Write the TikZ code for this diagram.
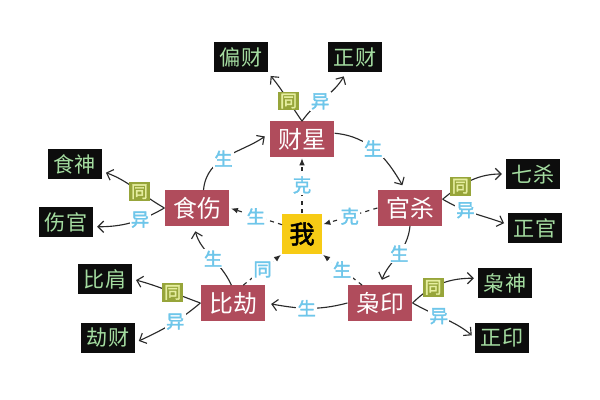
\documentclass[tikz,border=0pt]{standalone}
\usepackage{fontspec}
\setmainfont{Noto Sans CJK SC}[AutoFakeBold=2]
\usepackage{tikz}
\usetikzlibrary{arrows.meta}
\usepackage{xcolor}
\definecolor{bzred}{HTML}{B04C5C}
\definecolor{bzyellow}{HTML}{F7CB15}
\definecolor{bzblack}{HTML}{0D0D0D}
\definecolor{bzgreen}{HTML}{A4DCA0}
\definecolor{bzblue}{HTML}{6EC6EA}
\definecolor{bzolive}{HTML}{97A53A}
\definecolor{bzpale}{HTML}{E6EEA0}
\definecolor{bzline}{HTML}{2A2A2A}

\begin{document}
\begin{tikzpicture}[x=0.025cm, y=0.025cm,
  elembox/.style={fill=bzred, text=white, font=\fontsize{17pt}{17pt}\selectfont,
    minimum width=46pt, minimum height=25pt, inner sep=0pt},
  selfbox/.style={fill=bzyellow, text=black, font=\fontsize{18pt}{18pt}\selectfont\bfseries,
    minimum width=28pt, minimum height=29pt, inner sep=0pt},
  godbox/.style={fill=bzblack, text=bzgreen, font=\fontsize{15pt}{15pt}\selectfont,
    minimum width=38pt, minimum height=22pt, inner sep=0pt},
  relabel/.style={fill=white, text=bzblue, font=\fontsize{13pt}{13pt}\selectfont\bfseries, inner sep=1pt},
  tonglabel/.style={fill=bzolive, text=bzpale, font=\fontsize{12pt}{12pt}\selectfont\bfseries, inner sep=1.5pt},
  cycleline/.style={draw=bzline, line width=0.8pt, -{Straight Barb[length=4pt,width=8pt]}, shorten >=4pt},
  godline/.style={draw=bzline, line width=0.8pt, -{Straight Barb[length=4pt,width=8pt]}, shorten >=3pt},
  dashline/.style={draw=bzline, line width=0.8pt, dashed, -{Latex[length=5pt,width=4pt]}, shorten >=1pt}
]
  \useasboundingbox[fill=white] (0,0) rectangle (600,400);

  % Day master and the five elements
  \node[selfbox] (wo) at (302,166) {我};
  \foreach \name/\x/\y/\txt in {cai/302/261/财星, guan/410/192/官杀, yin/380/97/枭印,
    bi/233/97/比劫, shi/197/192/食伤}
    \node[elembox] (\name) at (\x,\y) {\txt};

  % Ten gods
  \foreach \name/\x/\y/\txt in {piancai/241/343/偏财, zhengcai/355/343/正财,
    shishen/75/236/食神, shangguan/66/178/伤官, qisha/533/226/七杀, zhengguan/535/172/正官,
    bijian/105/121/比肩, jiecai/108/62/劫财, xiaoshen/505/117/枭神, zhengyin/502/62/正印}
    \node[godbox] (\name) at (\x,\y) {\txt};

  % Generating cycle
  \draw[cycleline] (shi.70) to[out=85, in=215] node[relabel, pos=0.45] {生} (cai.170);
  \draw[cycleline] (cai.10) to[out=-5, in=120] node[relabel, pos=0.45] {生} (guan.105);
  \draw[cycleline] (guan.south) to[out=-95, in=70] node[relabel, pos=0.45] {生} (yin.north);
  \draw[cycleline] (yin.west) to[out=195, in=-10] node[relabel, pos=0.5] {生} (bi.east);
  \draw[cycleline] (bi.95) to[out=115, in=-75] node[relabel, pos=0.45] {生} (shi.-100);

  % Relations of the day master
  \draw[dashline] (wo.north) -- node[relabel] {克} (cai.south);
  \draw[dashline] (wo.155) -- node[relabel] {生} (shi.east);
  \draw[dashline] (guan.west) -- node[relabel] {克} (wo.25);
  \draw[dashline] (bi.60) -- node[relabel] {同} (wo.225);
  \draw[dashline] (yin.135) -- node[relabel] {生} (wo.-45);

  % Same polarity
  \foreach \src/\dst/\aout/\ain/\p in {cai.north/piancai.south east/125/-50/0.4,
    shi.west/shishen.-15/150/-20/0.4, guan.15/qisha.west/40/180/0.3,
    bi.west/bijian.east/160/-15/0.4, yin.east/xiaoshen.170/45/180/0.35}
    \draw[godline] (\src) to[out=\aout, in=\ain] node[tonglabel, pos=\p] {同} (\dst);
  % Other polarity
  \foreach \src/\dst/\aout/\ain/\p in {cai.north/zhengcai.-120/55/-120/0.4,
    shi.west/shangguan.-10/210/0/0.35, guan.15/zhengguan.173/-30/160/0.35,
    bi.west/jiecai.-10/220/25/0.4, yin.east/zhengyin.west/-30/140/0.4}
    \draw[godline] (\src) to[out=\aout, in=\ain] node[relabel, pos=\p] {异} (\dst);
\end{tikzpicture}
\end{document}
